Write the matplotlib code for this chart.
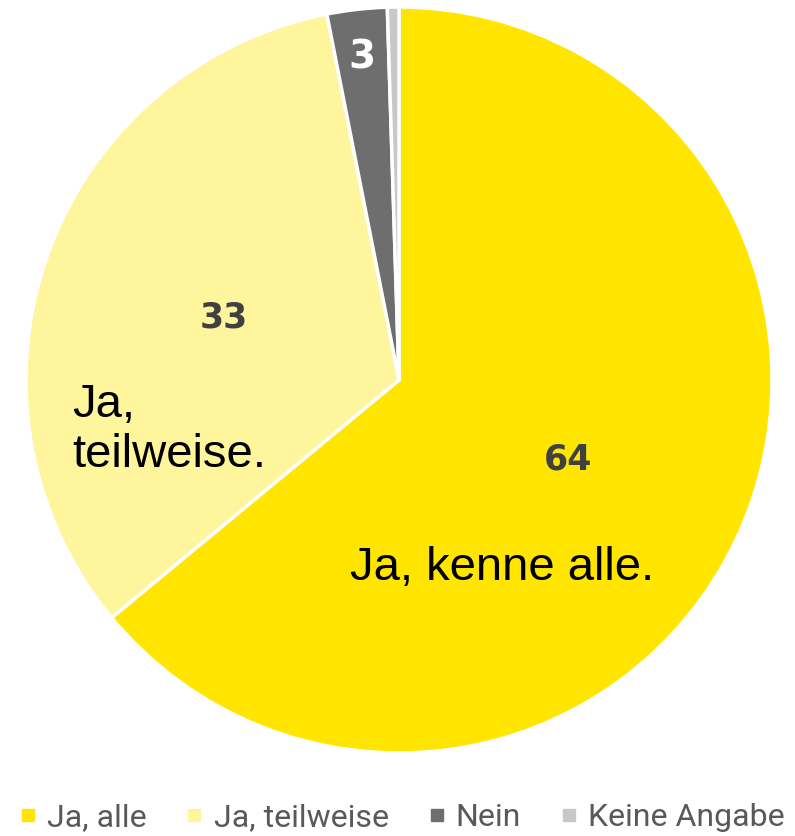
import matplotlib.pyplot as plt
from matplotlib.lines import Line2D
import numpy as np

categories = ['Ja, alle', 'Ja, teilweise', 'Nein', 'Keine Angabe']
values = [64.0, 32.9, 2.6, 0.5]
value_labels = ['64', '33', '3', '']
colors = ['#FFE500', '#FFF59D', '#6E6E6E', '#C8C8C8']
label_colors = ['#404040', '#404040', 'white', 'white']
label_radius = [0.5, 0.5, 0.87, 0.9]
label_sizes = [25, 25, 28, 20]

fig = plt.figure(figsize=(7.95, 8.36), dpi=100, facecolor='white')
ax = fig.add_axes([0.0327, 0.0993, 0.9384, 0.8923])

wedges, _ = ax.pie(
    values,
    colors=colors,
    startangle=90,
    counterclock=False,
    wedgeprops=dict(edgecolor='white', linewidth=2.5),
)

# value labels inside the slices
for w, txt, col, r, fs in zip(wedges, value_labels, label_colors, label_radius, label_sizes):
    ang = np.deg2rad((w.theta1 + w.theta2) / 2)
    ax.text(r * np.cos(ang), r * np.sin(ang), txt, ha='center', va='center',
            fontsize=fs, fontweight='bold', color=col, family='DejaVu Sans')

# annotations
ax.text(-0.131, -0.504, 'Ja, kenne alle.', ha='left', va='center',
        fontsize=34, color='black', family='Liberation Sans')
ax.text(-0.877, -0.134, 'Ja,\nteilweise.', ha='left', va='center',
        fontsize=34, color='black', family='Liberation Sans', linespacing=1.17)

ax.set_xlim(-1, 1)
ax.set_ylim(-1, 1)
ax.set_aspect('auto')

handles = [Line2D([], [], marker='s', linestyle='', markersize=8,
                  markerfacecolor=c, markeredgecolor=c) for c in colors]
leg = fig.legend(handles, categories, loc='lower center', ncol=4,
                 bbox_to_anchor=(0.505, -0.03), frameon=False,
                 handlelength=0.6, handletextpad=0.3, columnspacing=1.2,
                 prop=dict(family='Roboto', size=23))
for t in leg.get_texts():
    t.set_color('#595959')

plt.savefig('out.png', dpi=100, facecolor='white')
